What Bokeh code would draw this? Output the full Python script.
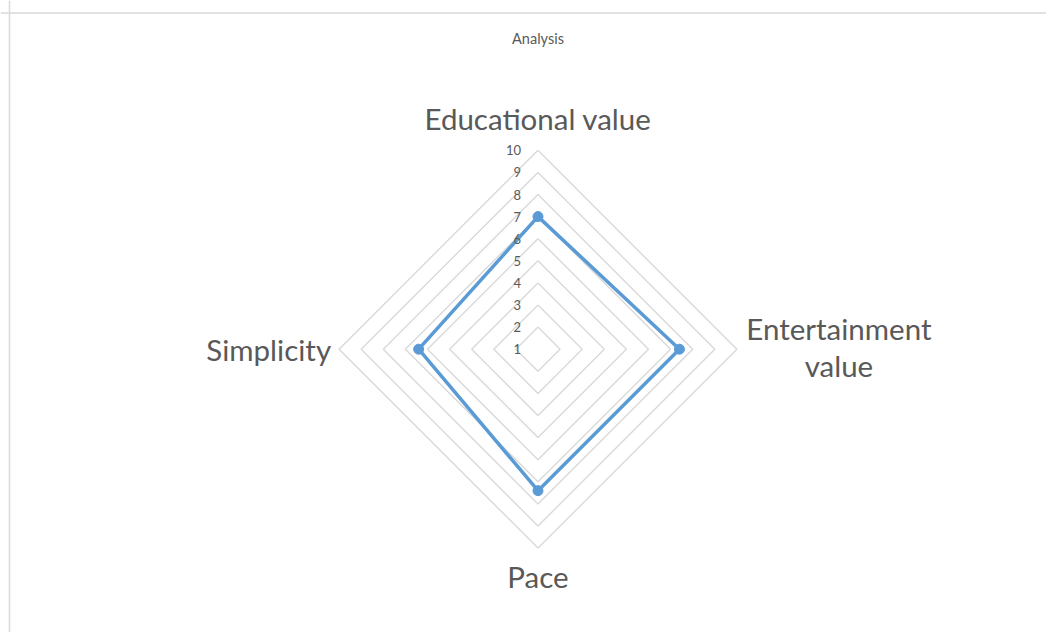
import math
from bokeh.plotting import figure
from bokeh.models import Range1d, Span
from bokeh.core.properties import value
from bokeh.embed import file_html
from bokeh.resources import INLINE

# ---- data ----
title = "Analysis"
categories = ["Educational value", "Entertainment\nvalue", "Pace", "Simplicity"]
values = [7, 7.4, 7.4, 6.4]
tick_labels = ["1", "2", "3", "4", "5", "6", "7", "8", "9", "10"]
axis_min = 1
axis_max = 10

# ---- layout ----
W, H = 1046, 632
S = 22.1               # pixels per value unit
CX, CY = 537.5, 348.7  # radar centre in canvas pixels

p = figure(width=W, height=H, output_backend="svg", toolbar_location=None,
           x_range=Range1d(-CX / S, (W - CX) / S),
           y_range=Range1d(-(H - CY) / S, CY / S),
           x_axis_type=None, y_axis_type=None, min_border=0)
p.grid.visible = False
p.outline_line_color = None
p.background_fill_color = "white"
p.border_fill_color = "white"

def px_x(cx):
    return -CX / S + cx / S

def px_y(cy):
    return (CY - cy) / S

# chart border (left and top edges visible)
p.add_layout(Span(location=px_x(9.0), dimension="height", line_color="#d9d9d9", line_width=1.5))
p.add_layout(Span(location=px_y(12.5), dimension="width", line_color="#d9d9d9", line_width=1.5))

n = len(categories)
thetas = [math.pi / 2 - i * 2 * math.pi / n for i in range(n)]

# grid rings
levels = [int(t) for t in tick_labels]
xs, ys = [], []
for lvl in levels:
    r = lvl - axis_min
    if r <= 0:
        continue
    xs.append([r * math.cos(t) for t in thetas] + [r * math.cos(thetas[0])])
    ys.append([r * math.sin(t) for t in thetas] + [r * math.sin(thetas[0])])
p.multi_line(xs, ys, line_color="#d9d9d9", line_width=1.4)

# series
sx = [(v - axis_min) * math.cos(t) for v, t in zip(values, thetas)]
sy = [(v - axis_min) * math.sin(t) for v, t in zip(values, thetas)]
p.line(sx + [sx[0]], sy + [sy[0]], line_color="#5b9bd5", line_width=3.5, line_join="round")
p.scatter(sx, sy, size=10, fill_color="#5b9bd5", line_color="#5b9bd5")

# tick labels
p.text(x=[0] * len(levels), y=[l - axis_min for l in levels], text=tick_labels,
       x_offset=-17, text_align="right", text_baseline="middle",
       text_font=value("Lato"), text_font_size="13px", text_color="#595959")

# category labels
R = axis_max - axis_min
font = value("Lato")
cat_color = "#595959"
cat_size = "29.5px"
p.text(x=[0], y=[R], text=[categories[0]], y_offset=-14, text_align="center",
       text_baseline="bottom", text_font=font, text_font_size=cat_size, text_color=cat_color)
p.text(x=[R], y=[0], text=[categories[1]], x_offset=102, y_offset=-2, text_align="center",
       text_baseline="middle", text_font=font, text_font_size=cat_size, text_color=cat_color,
       text_line_height=1.05)
p.text(x=[0], y=[-R], text=[categories[2]], y_offset=11, text_align="center",
       text_baseline="top", text_font=font, text_font_size=cat_size, text_color=cat_color)
p.text(x=[-R], y=[0], text=[categories[3]], x_offset=-8, text_align="right",
       text_baseline="middle", text_font=font, text_font_size=cat_size, text_color=cat_color)

# title
p.text(x=[0], y=[px_y(38)], text=[title], text_align="center", text_baseline="middle",
       text_font=font, text_font_size="14.5px", text_color="#595959")

open("out.html", "w").write(file_html(p, INLINE))
